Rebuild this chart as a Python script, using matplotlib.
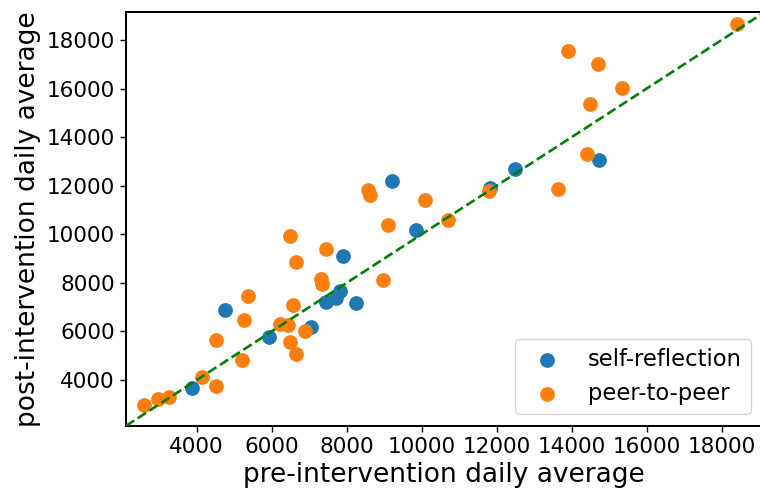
import matplotlib
matplotlib.use("Agg")
import matplotlib.pyplot as plt

self_pre = [3867, 4763, 5920, 7040, 7456, 7723, 7821, 7909, 8248, 9840, 9200, 12488, 11829, 14728]
self_post = [3671, 6882, 5783, 6194, 7211, 7388, 7652, 9093, 7158, 10175, 12180, 12674, 11892, 13057]

peer_pre = [2595, 2960, 3253, 4141, 4523, 4523, 5376, 5269, 5216, 6213, 6443, 6488, 6640, 6576,
            6480, 6640, 6896, 7323, 7341, 7440, 8976, 9109, 10096, 8576, 8621, 18400, 13909,
            14701, 15341, 14496, 14416, 11803, 13635, 10709]
peer_post = [2971, 3230, 3313, 4124, 3765, 5634, 7446, 6458, 4836, 6293, 6264, 5577, 5070, 7075,
             9928, 8858, 6017, 8158, 7952, 9406, 8105, 10369, 11410, 11822, 11604, 18656, 17545,
             16997, 16034, 15363, 13304, 11781, 11851, 10587]

xticks = [4000, 6000, 8000, 10000, 12000, 14000, 16000, 18000]
yticks = [4000, 6000, 8000, 10000, 12000, 14000, 16000, 18000]
xlim = (2115, 19075)
ylim = (2120, 19150)

W, H = 760, 495
fig = plt.figure(figsize=(W / 100, H / 100), dpi=100)
left, right, top, bottom = 126, 762, 12, 425.7
ax = fig.add_axes([left / W, 1 - bottom / H, (right - left) / W, (bottom - top) / H])

ax.scatter(self_pre, self_post, s=92, color="#1f77b4", label="self-reflection", zorder=2)
ax.scatter(peer_pre, peer_post, s=92, color="#ff7f0e", label="peer-to-peer", zorder=2)
lo, hi = min(xlim[0], ylim[0]), max(xlim[1], ylim[1])
ax.plot([lo, hi], [lo, hi], linestyle="--", color="g", linewidth=1.9, zorder=3)

ax.set_xlim(*xlim)
ax.set_ylim(*ylim)
ax.set_xticks(xticks)
ax.set_yticks(yticks)
ax.tick_params(labelsize=15.5, length=4.5, width=1.0)
for sp in ax.spines.values():
    sp.set_linewidth(1.45)

ax.set_xlabel("pre-intervention daily average", fontsize=19)
ax.set_ylabel("post-intervention daily average", fontsize=19)

ax.legend(loc="lower right", fontsize=16.3)

fig.savefig("out.png", dpi=100)
